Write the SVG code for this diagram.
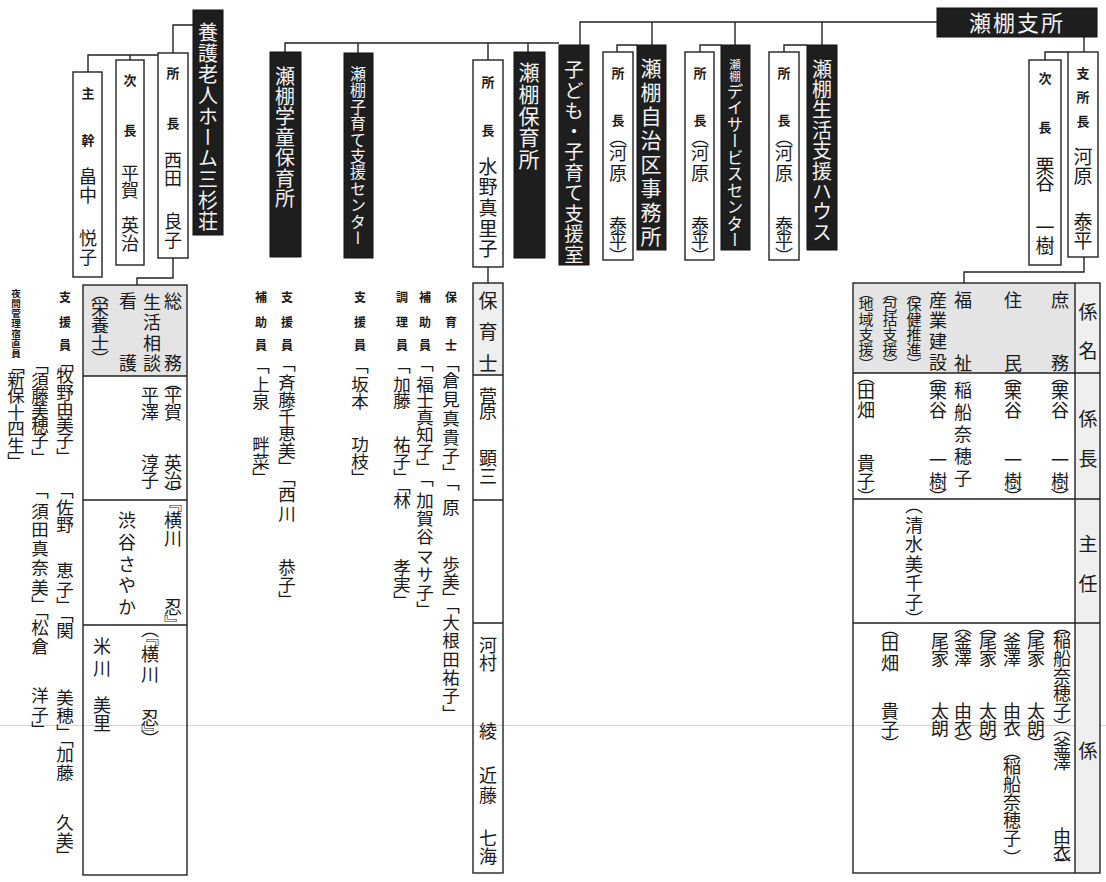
<svg xmlns="http://www.w3.org/2000/svg" width="1106" height="882" viewBox="0 0 1106 882">
<style>
text{font-family:"Noto Sans CJK JP","Noto Sans CJK SC",sans-serif;fill:#1a1a1a}
.v{writing-mode:vertical-rl}
.w{fill:#f2f2f2}
.dk{fill:#1e1e1e;stroke:#111;stroke-width:1}
.bx{fill:#fff;stroke:#222;stroke-width:1.4}
.gy{fill:#e4e4e4}
.gl{fill:#efefef}
.ln{fill:none;stroke:#222;stroke-width:1.4}
.lb{font-size:13px;font-weight:bold}
.sl{font-size:12px;font-weight:bold}
.t19{font-size:19px}
.t18{font-size:18px}
.t17{font-size:17.5px}
.t15{font-size:15px}
</style>

<line x1="0" y1="725.5" x2="1106" y2="725.5" stroke="#ecc4e2" stroke-width="1"/>

<g id="connectors" class="ln">
<path d="M937,22 H580 V45"/>
<path d="M652,22 V45 M735,22 V45 M822,22 V45"/>
<path d="M637,45 H617 V52 M721,45 H700 V52 M807,45 H784 V52"/>
<path d="M559,43 H285 V52 M358,43 V53 M488,43 V60 M528,43 V52"/>
<path d="M488,267 V283"/>
<path d="M1084,37 V52 M1068,52 H1045 V60"/>
<path d="M1084,257 V272 H964 V283"/>
<path d="M193,25 H173 V53 M158,55 H88 V72 M130,55 V60"/>
<path d="M173,258 V278 H137 V285"/>
</g>

<g id="setana-shisho">
<rect class="dk" x="937" y="8" width="160" height="29"/>
<text class="w" x="1017" y="31" font-size="22" letter-spacing="2" text-anchor="middle">瀬棚支所</text>
</g>

<g id="shishocho">
<rect class="bx" x="1068" y="52" width="30" height="205"/>
<text class="v lb" x="1083" y="67" letter-spacing="11">支所長</text>
<text class="v t19" x="1083" y="147 166 212 231">河原泰平</text>
</g>
<g id="jicho">
<rect class="bx" x="1029" y="60" width="32" height="205"/>
<text class="v lb" x="1045" y="72">次</text>
<text class="v lb" x="1045" y="121">長</text>
<text class="v t19" x="1045" y="156 173 218 236">栗谷一樹</text>
</g>

<g id="seikatsu-shien-house">
<rect class="dk" x="807" y="45" width="30" height="205"/>
<text class="v w" x="822" y="59" font-size="20" letter-spacing="0.4">瀬棚生活支援ハウス</text>
</g>
<g id="seikatsu-shocho">
<rect class="bx" x="769" y="52" width="30" height="208"/>
<text class="v lb" x="784" y="67">所</text>
<text class="v lb" x="784" y="114">長</text>
<text class="v t18" x="784" y="128 144 164 216 232 247">（河原泰平）</text>
</g>

<g id="day-service">
<rect class="dk" x="721" y="45" width="29" height="205"/>
<text class="v w" x="735" y="59" font-size="11.5">瀬棚</text>
<text class="v w" x="735" y="83" font-size="16.5">デイサービスセンター</text>
</g>
<g id="day-shocho">
<rect class="bx" x="685" y="52" width="29" height="208"/>
<text class="v lb" x="700" y="67">所</text>
<text class="v lb" x="700" y="114">長</text>
<text class="v t18" x="700" y="128 144 164 216 232 247">（河原泰平）</text>
</g>

<g id="jichiku">
<rect class="dk" x="637" y="45" width="29" height="205"/>
<text class="v w" x="651" y="58" font-size="21" letter-spacing="3">瀬棚自治区事務所</text>
</g>
<g id="jichiku-shocho">
<rect class="bx" x="603" y="52" width="30" height="208"/>
<text class="v lb" x="618" y="67">所</text>
<text class="v lb" x="618" y="114">長</text>
<text class="v t18" x="618" y="128 144 164 216 232 247">（河原泰平）</text>
</g>

<g id="kodomo-shienshitsu">
<rect class="dk" x="559" y="45" width="30" height="220"/>
<text class="v w" x="574" y="60" font-size="19.5" letter-spacing="1">子ども・子育て支援室</text>
</g>

<g id="hoikusho">
<rect class="dk" x="514" y="52" width="31" height="206"/>
<text class="v w" x="529" y="62" font-size="21" letter-spacing="0.6">瀬棚保育所</text>
</g>
<g id="hoikusho-shocho">
<rect class="bx" x="473" y="60" width="30" height="207"/>
<text class="v lb" x="488" y="76">所</text>
<text class="v lb" x="488" y="124">長</text>
<text class="v t19" x="488" y="157" letter-spacing="1.6">水野真里子</text>
</g>
<g id="hoikushi-table">
<rect class="gl" x="473" y="283" width="30" height="92"/>
<rect fill="none" stroke="#222" stroke-width="1.4" x="473" y="283" width="30" height="590"/>
<path class="ln" d="M473,375 H503 M473,500 H503 M473,623 H503"/>
<text class="v t19" x="488" y="291 322 354">保育士</text>
<text class="v t18" x="488" y="387 402 449 467">菅原顕三</text>
<text class="v t18" x="488" y="636 654 722 766 786 829 847">河村綾近藤七海</text>
</g>
<g id="hoikusho-staff">
<text class="v sl" x="451" y="291 316 339">保育士</text>
<text class="v t17" x="451" y="355 372 391 410 429 447 464 474 499 556 573 589 597 614 632 651 669 687 705">「倉見真貴子」「原歩美」「大根田祐子」</text>
<text class="v sl" x="425" y="291 316 339">補助員</text>
<text class="v t17" x="425" y="355 376 392 409 426 443 459 470 492 510 528 548 566 584 601">「福士真知子」「加賀谷マサ子」</text>
<text class="v sl" x="402" y="291 316 339">調理員</text>
<text class="v t17" x="402" y="357 376 392 436 453 469 478 492 559 576 592">「加藤祐子」「林孝実」</text>
</g>

<g id="kosodate-center">
<rect class="dk" x="344" y="53" width="29" height="205"/>
<text class="v w" x="358" y="66" font-size="16" letter-spacing="0.4">瀬棚子育て支援センター</text>
<text class="v sl" x="360" y="291 316 339">支援員</text>
<text class="v t17" x="360" y="357 376 393 436 453 469">「坂本功枝」</text>
</g>

<g id="gakudo-hoikusho">
<rect class="dk" x="270" y="52" width="31" height="205"/>
<text class="v w" x="285" y="66" font-size="20" letter-spacing="0.4">瀬棚学童保育所</text>
<text class="v sl" x="287" y="291 316 339">支援員</text>
<text class="v t17" x="287" y="355 374 391 408 425 442 458 470 486 505 559 576 591">「斉藤千恵美」「西川恭子」</text>
<text class="v sl" x="261" y="291 316 339">補助員</text>
<text class="v t17" x="261" y="357 376 393 436 453 469">「上泉畔菜」</text>
</g>

<g id="yogo-rojin-home">
<rect class="dk" x="193" y="10" width="30" height="225"/>
<text class="v w" x="208" y="22" font-size="20" letter-spacing="1">養護老人ホーム三杉荘</text>
</g>
<g id="yogo-shocho">
<rect class="bx" x="158" y="53" width="30" height="205"/>
<text class="v lb" x="173" y="67">所</text>
<text class="v lb" x="173" y="117">長</text>
<text class="v t18" x="173" y="151 169 212 231">西田良子</text>
</g>
<g id="yogo-jicho">
<rect class="bx" x="116" y="60" width="28" height="205"/>
<text class="v lb" x="130" y="74">次</text>
<text class="v lb" x="130" y="124">長</text>
<text class="v t18" x="130" y="164 181 216 234">平賀英治</text>
</g>
<g id="yogo-shukan">
<rect class="bx" x="73" y="72" width="29" height="205"/>
<text class="v lb" x="88" y="87">主</text>
<text class="v lb" x="88" y="134">幹</text>
<text class="v t18" x="88" y="167 186 229 248">畠中悦子</text>
</g>
<g id="yogo-table">
<rect class="gy" x="83" y="285" width="104" height="91"/>
<rect fill="none" stroke="#222" stroke-width="1.4" x="83" y="285" width="104" height="590"/>
<path class="ln" d="M83,376 H187 M83,500 H187 M83,625 H187"/>
<text class="v t18" x="173" y="292 354">総務</text>
<text class="v t18" x="152" y="293 313.5 334 354">生活相談</text>
<text class="v t18" x="128" y="292 354">看護</text>
<text class="v t18" x="100" y="284 299 316 334 350">（栄養士）</text>
<text class="v t18" x="173" y="373 386 403 454 471 485">（平賀英治）</text>
<text class="v t18" x="150" y="386 403 454 471">平澤淳子</text>
<text class="v t18" x="173" y="494 511 529 598 615">『横川忍』</text>
<text class="v t18" x="127" y="511 533 555 576 598">渋谷さやか</text>
<text class="v t18" x="150" y="620 628 645 665 709 724 730">（『横川忍』）</text>
<text class="v t18" x="102" y="637 659 696 714">米川美里</text>
</g>
<g id="yogo-staff">
<text class="v sl" x="65" y="291 316 339">支援員</text>
<text class="v t17" x="65" y="354 367 384 400 416 432 448 482 499 516 562 581 597 606 622 689 707 724 731 746 764 814 832 847">「牧野由美子」「佐野恵子」「関美穂」「加藤久美」</text>
<text class="v t17" x="40" y="356 372 387 402 417 432 449 482 503 521 540 559 579 596 603 619 638 687 706 721">「須藤美穂子」「須田真奈美」「松倉洋子」</text>
<text class="v" x="16" y="289" font-size="9.5" font-weight="bold" letter-spacing="0.5">夜間管理宿直員</text>
<text class="v t17" x="16" y="358 371 387 404 420 437 453">「新保十四生」</text>
</g>

<g id="kakari-table">
<rect class="gy" x="853" y="283" width="222" height="90"/>
<rect class="gl" x="1075" y="283" width="25" height="590"/>
<rect fill="none" stroke="#222" stroke-width="1.4" x="853" y="283" width="247" height="590"/>
<path class="ln" d="M1075,283 V873 M853,373 H1100 M853,499 H1100 M853,623 H1100"/>
<text class="v t19" x="1088" y="302 341">係名</text>
<text class="v t19" x="1088" y="409 449">係長</text>
<text class="v t19" x="1088" y="534 574">主任</text>
<text class="v t19" x="1088" y="741">係</text>
<text class="v t18" x="1060" y="291 354">庶務</text>
<text class="v t18" x="1013" y="291 354">住民</text>
<text class="v t18" x="963" y="291 354">福祉</text>
<text class="v t18" x="938" y="291 311.5 332 353">産業建設</text>
<text class="v t15" x="914" y="285 297 312 327 342 357">（保健推進）</text>
<text class="v t15" x="890" y="285 297 312 327 342 357">（包括支援）</text>
<text class="v t15" x="866" y="285 297 312 327 342 357">（地域支援）</text>
<text class="v t18" x="1060" y="367 382 401 451 472 488">（栗谷一樹）</text>
<text class="v t18" x="1013" y="367 382 401 451 472 488">（栗谷一樹）</text>
<text class="v t18" x="963" y="381 403 425 447 469">稲船奈穂子</text>
<text class="v t18" x="938" y="367 382 401 451 472 488">（栗谷一樹）</text>
<text class="v t18" x="866" y="367 382 401 454 472 488">（田畑貴子）</text>
<text class="v t18" x="914" y="496 516 535 555 574 593 610">（清水美千子）</text>
<text class="v t18" x="1062" y="617 631 649 667 684 702 718 719 736 753 827 844 856">（稲船奈穂子）（釜澤由衣）</text>
<text class="v t18" x="1036" y="617 632 649 702 719 735">（尾家太朗）</text>
<text class="v t18" x="1012" y="632 649 702 719 742 757 775 793 811 829 849">釜澤由衣（稲船奈穂子）</text>
<text class="v t18" x="988" y="617 632 649 702 719 735">（尾家太朗）</text>
<text class="v t18" x="963" y="617 632 649 702 719 735">（釜澤由衣）</text>
<text class="v t18" x="940" y="632 649 702 719">尾家太朗</text>
<text class="v t18" x="890" y="619 634 654 702 720 735">（田畑貴子）</text>
</g>
</svg>
